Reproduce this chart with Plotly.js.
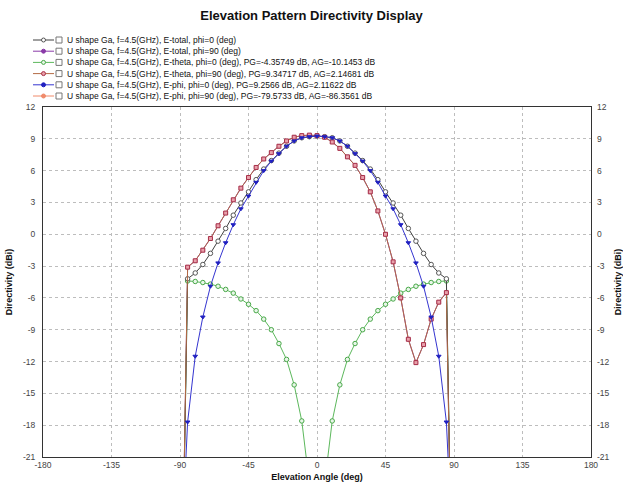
<!DOCTYPE html>
<html>
<head>
<meta charset="utf-8">
<script src="https://cdn.plot.ly/plotly-3.0.1.min.js"></script>
<style>
html,body{margin:0;padding:0;background:#fff;}
#chart{width:623px;height:491px;}
</style>
</head>
<body>
<div id="chart"></div>
<script>
// ---- data ----
const theta = [-90,-85,-80,-75,-70,-65,-60,-55,-50,-45,-40,-35,-30,-25,-20,-15,-10,-5,0,5,10,15,20,25,30,35,40,45,50,55,60,65,70,75,80,85,90];

const eTotalPhi0 = [-45,-4.2,-3.65,-2.85,-1.8,-0.65,0.55,1.8,2.95,4.0,5.15,6.15,6.95,7.65,8.3,8.8,9.1,9.2,9.26,9.2,9.1,8.8,8.3,7.65,6.95,6.15,5.15,4.0,2.95,1.8,0.55,-0.65,-1.8,-2.85,-3.65,-4.2,-45];
const eTotalPhi90 = [-45,-3.1,-2.5,-1.5,-0.4,0.8,2.0,3.25,4.35,5.35,6.3,7.1,7.7,8.3,8.8,9.15,9.3,9.35,9.3,9.15,8.7,8.1,7.3,6.5,5.35,4.0,2.2,0.0,-2.6,-6.0,-9.9,-12.1,-10.4,-8.0,-6.4,-5.5,-45];
const eThetaPhi0 = [-45,-4.4,-4.45,-4.55,-4.7,-4.9,-5.2,-5.55,-6.1,-6.6,-7.2,-8.0,-9.0,-10.3,-11.8,-14.2,-17.6,-23.5,-45,-23.5,-17.6,-14.2,-11.8,-10.3,-9.0,-8.0,-7.2,-6.6,-6.1,-5.55,-5.2,-4.9,-4.7,-4.55,-4.45,-4.4,-45];
const eThetaPhi90 = [-45,-3.1,-2.5,-1.5,-0.4,0.8,2.0,3.25,4.35,5.35,6.3,7.1,7.7,8.3,8.8,9.15,9.3,9.35,9.3,9.15,8.7,8.1,7.3,6.5,5.35,4.0,2.2,0.0,-2.6,-6.0,-9.9,-12.1,-10.4,-8.0,-6.4,-5.5,-45];
const ePhiPhi0 = [-33,-17.7,-11.5,-7.8,-4.9,-2.7,-0.8,0.9,2.4,3.6,4.9,6.0,6.9,7.6,8.3,8.8,9.1,9.2,9.26,9.2,9.1,8.8,8.3,7.6,6.9,6.0,4.9,3.6,2.4,0.9,-0.8,-2.7,-4.9,-7.8,-11.5,-17.7,-33];
const ePhiPhi90 = [-95,-86,-84,-82.5,-81.5,-80.8,-80.3,-80,-79.8,-79.7,-79.6,-79.6,-79.6,-79.6,-79.6,-79.6,-79.6,-79.6,-79.6,-79.6,-79.6,-79.6,-79.6,-79.6,-79.6,-79.6,-79.6,-79.7,-79.8,-80,-80.3,-80.8,-81.5,-82.5,-84,-86,-95];

const seriesNames = [
  "U shape Ga, f=4.5(GHz), E-total, phi=0 (deg)",
  "U shape Ga, f=4.5(GHz), E-total, phi=90 (deg)",
  "U shape Ga, f=4.5(GHz), E-theta, phi=0 (deg), PG=-4.35749 dB, AG=-10.1453 dB",
  "U shape Ga, f=4.5(GHz), E-theta, phi=90 (deg), PG=9.34717 dB, AG=2.14681 dB",
  "U shape Ga, f=4.5(GHz), E-phi, phi=0 (deg), PG=9.2566 dB, AG=2.11622 dB",
  "U shape Ga, f=4.5(GHz), E-phi, phi=90 (deg), PG=-79.5733 dB, AG=-86.3561 dB"
];
const xTicks = [-180,-135,-90,-45,0,45,90,135,180];
const yTicks = [-21,-18,-15,-12,-9,-6,-3,0,3,6,9,12];

// ---- styles ----
const styles = [
  {line:'#404040', marker:'circle', mcolor:'#555555', fill:'#ffffff', size:4.5},
  {line:'#8a3aa8', marker:'square', mcolor:'#8a3aa8', fill:'#8a3aa8', size:3},
  {line:'#5cb85c', marker:'circle', mcolor:'#48a848', fill:'#e8f6e8', size:4.5},
  {line:'#b36a45', marker:'square', mcolor:'#a83048', fill:'#e8a0aa', size:4},
  {line:'#3535d0', marker:'triangle-down', mcolor:'#2020c0', fill:'#2020c0', size:4},
  {line:'#f08a6a', marker:'circle', mcolor:'#f08a6a', fill:'#f08a6a', size:3}
];
const seriesData = [eTotalPhi0, eTotalPhi90, eThetaPhi0, eThetaPhi90, ePhiPhi0, ePhiPhi90];
const drawOrder = [5,1,2,0,3,4];

const traces = drawOrder.map(i => ({
  type:'scatter', mode:'lines+markers', x:theta, y:seriesData[i], name:seriesNames[i],
  line:{color:styles[i].line, width:1},
  marker:{symbol:styles[i].marker, size:styles[i].size, color:styles[i].fill, line:{color:styles[i].mcolor, width:1}},
  showlegend:false, hoverinfo:'skip'
}));
// a trace for the right-hand axis
traces.push({type:'scatter', mode:'lines', x:theta, y:ePhiPhi90, yaxis:'y2', line:{color:'rgba(0,0,0,0)'}, showlegend:false, hoverinfo:'skip'});

// ---- manual compact legend ----
const L = 43, R = 591, T = 107, B = 457;
const px = v => (v - L) / (R - L);
const py = v => (B - v) / (B - T);
const legendY0 = 40, legendDy = 11.2;
const shapes = [], annotations = [];
seriesNames.forEach((name, i) => {
  const yy = legendY0 + i * legendDy;
  shapes.push({type:'line', xref:'paper', yref:'paper', x0:px(33), x1:px(54), y0:py(yy), y1:py(yy), line:{color:styles[i].line, width:1}});
  shapes.push({type:'circle', xref:'paper', yref:'paper', x0:px(41.5), x1:px(45.5), y0:py(yy+2), y1:py(yy-2), line:{color:styles[i].mcolor, width:1}, fillcolor: styles[i].fill});
  shapes.push({type:'rect', xref:'paper', yref:'paper', x0:px(56), x1:px(62), y0:py(yy+3), y1:py(yy-3), line:{color:'#777', width:1}, fillcolor:'#fff'});
  annotations.push({xref:'paper', yref:'paper', x:px(65), y:py(yy), xanchor:'left', yanchor:'middle', showarrow:false, text:name, font:{family:'Liberation Sans, Arial, sans-serif', size:8.5, color:'#111'}});
});

const tickFont = {family:'Liberation Sans, Arial, sans-serif', size:8.5, color:'#444'};
const titleFont = {family:'Liberation Sans, Arial, sans-serif', size:9, color:'#111', weight:'bold'};

const layout = {
  width:623, height:491,
  margin:{l:L, r:623-R, t:T, b:491-B, pad:0},
  paper_bgcolor:'#fff', plot_bgcolor:'#fff',
  title:{text:'<b>Elevation Pattern Directivity Display</b>', x:0.5, xanchor:'center', y:1-15/491, yanchor:'middle', font:{family:'Liberation Sans, Arial, sans-serif', size:13, color:'#111'}},
  xaxis:{range:[-180,180], tickvals:xTicks, ticktext:xTicks.map(String), showgrid:true, gridcolor:'#bdbdbd', griddash:'dot', gridwidth:1,
         zeroline:false, showline:true, mirror:true, linecolor:'#333', linewidth:1, ticks:'', tickfont:tickFont,
         title:{text:'<b>Elevation Angle (deg)</b>', font:titleFont, standoff:4}},
  yaxis:{range:[-21,12], tickvals:yTicks, ticktext:yTicks.map(String), showgrid:true, gridcolor:'#bdbdbd', griddash:'dot', gridwidth:1,
         zeroline:false, showline:true, mirror:true, linecolor:'#333', linewidth:1, ticks:'', tickfont:tickFont, ticklabelstandoff:5,
         title:{text:'<b>Directivity (dBi)</b>', font:titleFont, standoff:8}},
  yaxis2:{range:[-21,12], overlaying:'y', side:'right', tickvals:yTicks, ticktext:yTicks.map(String), showgrid:false, zeroline:false,
          showline:false, ticks:'', tickfont:tickFont, ticklabelstandoff:5,
          title:{text:'<b>Directivity (dBi)</b>', font:titleFont, standoff:8}},
  shapes:shapes, annotations:annotations, showlegend:false
};

Plotly.newPlot('chart', traces, layout, {staticPlot:true, displayModeBar:false});
</script>
</body>
</html>
